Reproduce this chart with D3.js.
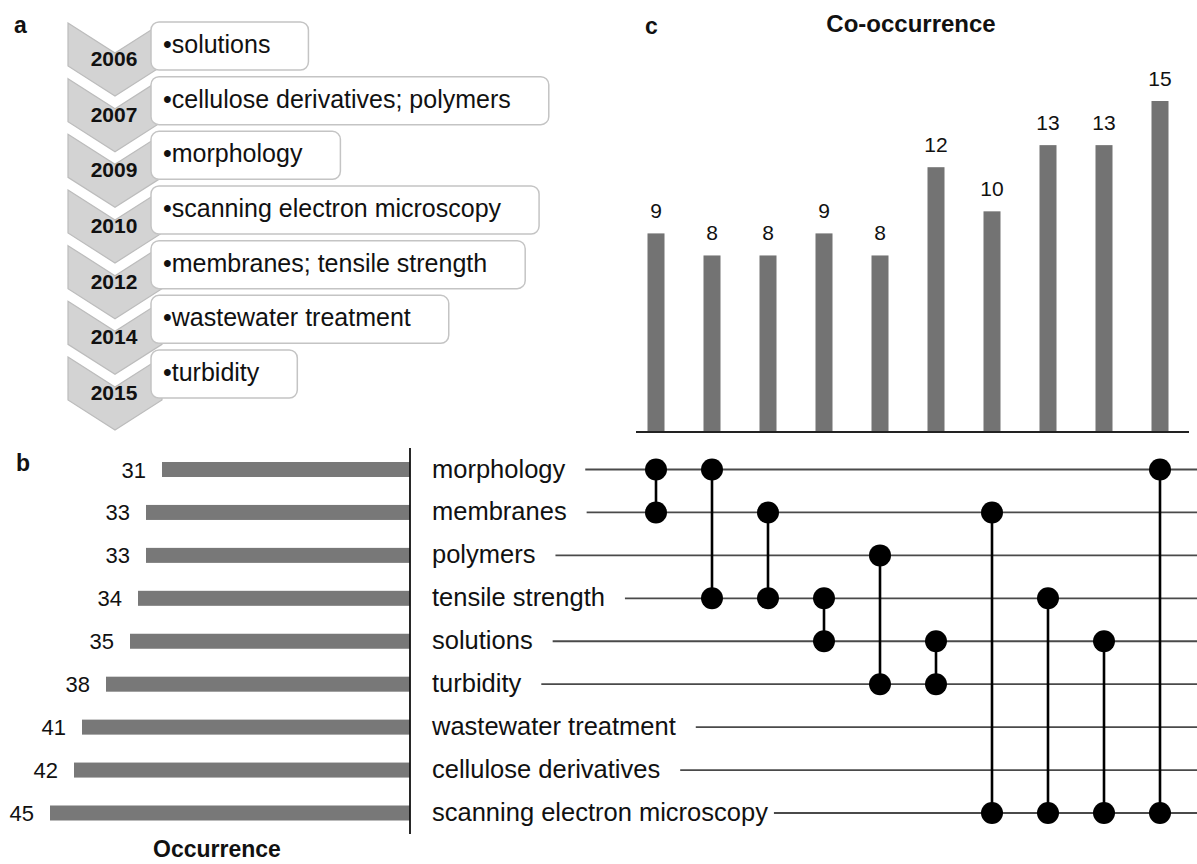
<!DOCTYPE html>
<html lang="en">

<head>
    <meta charset="utf-8">
    <script src="https://d3js.org/d3.v7.min.js"></script>
    <style>
        body { margin: 0; background: #fff; }
        text { font-family: "Liberation Sans", Arial, sans-serif; fill: #111; }
    </style>
</head>

<body>
    <div id="chart"></div>

    <script>
        // Panel a: timeline
        const years = ["2006", "2007", "2009", "2010", "2012", "2014", "2015"];
        const yearTerms = [
            "solutions",
            "cellulose derivatives; polymers",
            "morphology",
            "scanning electron microscopy",
            "membranes; tensile strength",
            "wastewater treatment",
            "turbidity"
        ];

        // Panel b: single keyword occurrence
        const terms = ["morphology", "membranes", "polymers", "tensile strength", "solutions",
            "turbidity", "wastewater treatment", "cellulose derivatives", "scanning electron microscopy"];
        const occurrence = [31, 33, 33, 34, 35, 38, 41, 42, 45];

        // Panel c: pairs and their co-occurrence
        const pairs = [
            ["morphology", "membranes"],
            ["morphology", "tensile strength"],
            ["membranes", "tensile strength"],
            ["tensile strength", "solutions"],
            ["polymers", "turbidity"],
            ["solutions", "turbidity"],
            ["membranes", "scanning electron microscopy"],
            ["tensile strength", "scanning electron microscopy"],
            ["solutions", "scanning electron microscopy"],
            ["morphology", "scanning electron microscopy"]
        ];
        const coOccurrence = [9, 8, 8, 9, 8, 12, 10, 13, 13, 15];

        const width = 1197;
        const height = 864;

        const svg = d3.select("#chart")
            .append("svg")
            .attr("width", width)
            .attr("height", height);

        // panel letters
        svg.append("text").attr("x", 14).attr("y", 33).text("a")
            .attr("font-size", 23).attr("font-weight", "bold");
        svg.append("text").attr("x", 16).attr("y", 471).text("b")
            .attr("font-size", 23).attr("font-weight", "bold");
        svg.append("text").attr("x", 645).attr("y", 34).text("c")
            .attr("font-size", 23).attr("font-weight", "bold");

        // ---------- a ----------
        const chevY = d3.scaleLinear().domain([0, years.length - 1]).range([23, 357]);
        const boxY = d3.scaleLinear().domain([0, years.length - 1]).range([22, 350]);
        const cx0 = 68, cx1 = 162, cxm = 115, side = 43, notch = 30;

        const ga = svg.append("g");
        ga.selectAll(".chev")
            .data(years)
            .enter()
            .append("polygon")
            .attr("class", "chev")
            .attr("points", (d, i) => {
                const t = chevY(i);
                return [[cx0, t], [cxm, t + notch], [cx1, t], [cx1, t + side],
                    [cxm, t + side + notch], [cx0, t + side]].map(p => p.join(",")).join(" ");
            })
            .attr("fill", "#d3d3d3")
            .attr("stroke", "#bcbcbc")
            .attr("stroke-width", 1.2);

        ga.selectAll(".year")
            .data(years)
            .enter()
            .append("text")
            .attr("class", "year")
            .attr("x", cxm - 1)
            .attr("y", (d, i) => chevY(i) + 43)
            .attr("text-anchor", "middle")
            .attr("font-size", 21)
            .attr("font-weight", "bold")
            .text(d => d);

        // boxes: draw text first to measure, then insert the box behind
        const rows = ga.selectAll(".kw")
            .data(yearTerms)
            .enter()
            .append("g")
            .attr("class", "kw")
            .attr("transform", (d, i) => `translate(151,${boxY(i)})`);

        rows.append("text")
            .attr("x", 12)
            .attr("y", 31)
            .attr("font-size", 25)
            .text(d => "\u2022" + d);

        rows.insert("rect", "text")
            .attr("x", 0)
            .attr("y", 0)
            .attr("height", 48)
            .attr("width", function () {
                return this.parentNode.querySelector("text").getComputedTextLength() + 50;
            })
            .attr("rx", 8)
            .attr("fill", "#fff")
            .attr("stroke", "#c4c4c4")
            .attr("stroke-width", 1.5);

        // ---------- b ----------
        const rowY = d3.scalePoint().domain(terms).range([469.5, 813]);
        const occX = d3.scaleLinear().domain([0, 45]).range([410, 50]);
        const barH = 15;

        svg.selectAll(".occ")
            .data(terms)
            .enter()
            .append("rect")
            .attr("class", "occ")
            .attr("x", (d, i) => occX(occurrence[i]))
            .attr("y", d => rowY(d) - barH / 2)
            .attr("width", (d, i) => occX(0) - occX(occurrence[i]))
            .attr("height", barH)
            .attr("fill", "#787878");

        svg.selectAll(".occLabel")
            .data(terms)
            .enter()
            .append("text")
            .attr("class", "occLabel")
            .attr("x", (d, i) => occX(occurrence[i]) - 16)
            .attr("y", d => rowY(d) + 8)
            .attr("text-anchor", "end")
            .attr("font-size", 22)
            .text((d, i) => occurrence[i]);

        svg.append("line")
            .attr("x1", occX(0)).attr("x2", occX(0))
            .attr("y1", 448).attr("y2", 834)
            .attr("stroke", "#111").attr("stroke-width", 1.8);

        svg.append("text")
            .attr("x", 217).attr("y", 857)
            .attr("text-anchor", "middle")
            .attr("font-size", 23).attr("font-weight", "bold")
            .text("Occurrence");

        // ---------- matrix ----------
        const colX = d3.scalePoint().domain(d3.range(pairs.length)).range([628, 1188]).padding(0.5);

        const labels = svg.selectAll(".term")
            .data(terms)
            .enter()
            .append("text")
            .attr("class", "term")
            .attr("x", 432)
            .attr("y", d => rowY(d) + 8)
            .attr("font-size", 25.5)
            .text(d => d);

        labels.each(function (d) {
            const end = 432 + this.getComputedTextLength();
            const gap = d === "scanning electron microscopy" ? 6 : 20;
            svg.insert("line", ".term")
                .attr("x1", end + gap).attr("x2", width)
                .attr("y1", rowY(d)).attr("y2", rowY(d))
                .attr("stroke", "#4a4a4a").attr("stroke-width", 1.8);
        });

        svg.selectAll(".link")
            .data(pairs)
            .enter()
            .append("line")
            .attr("class", "link")
            .attr("x1", (d, i) => colX(i)).attr("x2", (d, i) => colX(i))
            .attr("y1", d => rowY(d[0])).attr("y2", d => rowY(d[1]))
            .attr("stroke", "#000").attr("stroke-width", 2.6);

        svg.selectAll(".dot")
            .data(pairs.flatMap((p, i) => p.map(t => ({ col: i, term: t }))))
            .enter()
            .append("circle")
            .attr("class", "dot")
            .attr("cx", d => colX(d.col))
            .attr("cy", d => rowY(d.term))
            .attr("r", 11)
            .attr("fill", "#000");

        // ---------- c ----------
        const coY = d3.scaleLinear().domain([0, 15]).range([432, 101]);
        const barW = 17;

        svg.selectAll(".co")
            .data(coOccurrence)
            .enter()
            .append("rect")
            .attr("class", "co")
            .attr("x", (d, i) => colX(i) - barW / 2)
            .attr("y", d => coY(d))
            .attr("width", barW)
            .attr("height", d => coY(0) - coY(d))
            .attr("fill", "#737373");

        svg.selectAll(".coLabel")
            .data(coOccurrence)
            .enter()
            .append("text")
            .attr("class", "coLabel")
            .attr("x", (d, i) => colX(i))
            .attr("y", d => coY(d) - 15)
            .attr("text-anchor", "middle")
            .attr("font-size", 21)
            .text(d => d);

        svg.append("line")
            .attr("x1", 636).attr("x2", 1189)
            .attr("y1", coY(0)).attr("y2", coY(0))
            .attr("stroke", "#222").attr("stroke-width", 1.8);

        svg.append("text")
            .attr("x", 911).attr("y", 32)
            .attr("text-anchor", "middle")
            .attr("font-size", 24).attr("font-weight", "bold")
            .text("Co-occurrence");
    </script>
</body>

</html>
